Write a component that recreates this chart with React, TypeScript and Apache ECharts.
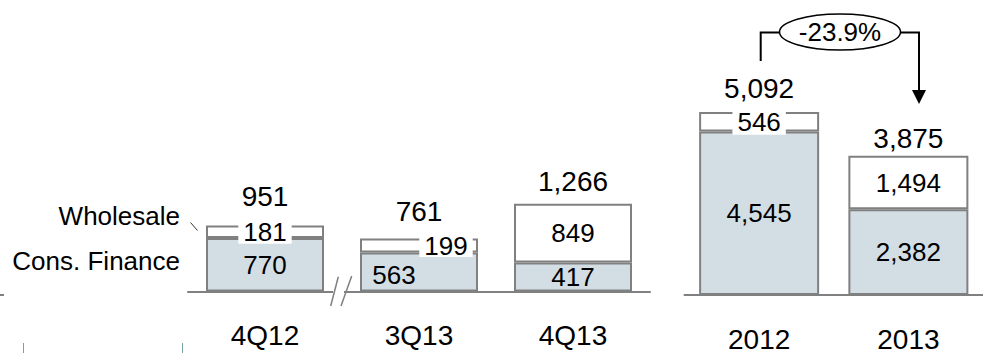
import React, { useEffect, useRef } from "react";
import * as echarts from "echarts";

const quarterCats = ["4Q12", "3Q13", "4Q13"];
const quarterConsFinance = [770, 563, 417];
const quarterWholesale = [181, 199, 849];
const quarterTotals = [951, 761, 1266];

const yearCats = ["2012", "2013"];
const yearConsFinance = [4545, 2382];
const yearWholesale = [546, 1494];
const yearTotals = [5092, 3875];

const legendWholesale = "Wholesale";
const legendConsFinance = "Cons. Finance";
const changeLabel = "-23.9%";

const FONT = "Liberation Sans, Arial, sans-serif";
const FILL = "#d3dee4";
const BORDER = "#808080";

const fmt = (v: number) => v.toLocaleString("en-US");

export default function App() {
  const ref = useRef<HTMLDivElement>(null);
  useEffect(() => {
    if (!ref.current) return;
    const chart = echarts.init(ref.current, undefined, { renderer: "svg" });

    const innerLabel = {
      show: true,
      position: "inside" as const,
      fontSize: 26,
      fontFamily: FONT,
      color: "#000",
      formatter: (p: any) => fmt(p.value),
    };
    const totalLabel = {
      show: true,
      position: "top" as const,
      distance: 0,
      fontSize: 28,
      fontFamily: FONT,
      color: "#000",
      lineHeight: 28,
      formatter: (p: any) => fmt(p.value),
    };
    const quarterTotalOffsets = [-15, -13, -8];
    const yearTotalOffsets = [-9, -3];

    const option: any = {
      animation: false,
      grid: [
        { left: 188, width: 462, top: 152.7, bottom: 61.5 },
        { left: 684.5, width: 311.4, top: 79.3, bottom: 57.7 },
      ],
      xAxis: [
        {
          type: "category",
          gridIndex: 0,
          data: quarterCats,
          axisTick: { show: false },
          axisLine: { lineStyle: { color: BORDER, width: 2 } },
          axisLabel: { fontSize: 28, fontFamily: FONT, color: "#000", margin: 30 },
        },
        {
          type: "category",
          gridIndex: 1,
          data: yearCats,
          axisTick: { show: false },
          axisLine: { lineStyle: { color: BORDER, width: 2 } },
          axisLabel: { fontSize: 28, fontFamily: FONT, color: "#000", margin: 30 },
        },
      ],
      yAxis: [
        { type: "value", gridIndex: 0, min: 0, max: 2000, show: false, splitLine: { show: false } },
        { type: "value", gridIndex: 1, min: 0, max: 6000, show: false, splitLine: { show: false } },
      ],
      series: [
        {
          name: legendConsFinance,
          type: "bar",
          xAxisIndex: 0,
          yAxisIndex: 0,
          stack: "q",
          barWidth: 118,
          data: quarterConsFinance.map((v, i) =>
            i === 1 ? { value: v, label: { offset: [-25, 3] } } : v
          ),
          itemStyle: { color: FILL, borderColor: BORDER, borderWidth: 2 },
          label: innerLabel,
        },
        {
          name: legendWholesale,
          type: "bar",
          xAxisIndex: 0,
          yAxisIndex: 0,
          stack: "q",
          barWidth: 118,
          data: quarterWholesale.map((v, i) =>
            i === 0
              ? { value: v, label: { backgroundColor: "#fff", padding: [0, 5], lineHeight: 24 } }
              : i === 1
              ? { value: v, label: { backgroundColor: "#fff", padding: [0, 5], lineHeight: 23, offset: [27, 0] } }
              : v
          ),
          itemStyle: { color: "#fff", borderColor: BORDER, borderWidth: 2 },
          label: innerLabel,
          z: 3,
        },
        {
          name: "Total",
          type: "bar",
          xAxisIndex: 0,
          yAxisIndex: 0,
          barWidth: 118,
          barGap: "-100%",
          silent: true,
          data: quarterTotals.map((v, i) => ({ value: v, label: { offset: [0, quarterTotalOffsets[i]] } })),
          itemStyle: { color: "rgba(0,0,0,0)", borderWidth: 0 },
          label: totalLabel,
          z: 4,
        },
        {
          name: legendConsFinance,
          type: "bar",
          xAxisIndex: 1,
          yAxisIndex: 1,
          stack: "y",
          barWidth: 120,
          data: yearConsFinance,
          itemStyle: { color: FILL, borderColor: BORDER, borderWidth: 2 },
          label: innerLabel,
        },
        {
          name: legendWholesale,
          type: "bar",
          xAxisIndex: 1,
          yAxisIndex: 1,
          stack: "y",
          barWidth: 120,
          data: yearWholesale.map((v, i) =>
            i === 0
              ? { value: v, label: { backgroundColor: "#fff", padding: [0, 5], lineHeight: 26 } }
              : v
          ),
          itemStyle: { color: "#fff", borderColor: BORDER, borderWidth: 2 },
          label: innerLabel,
          z: 3,
        },
        {
          name: "Total",
          type: "bar",
          xAxisIndex: 1,
          yAxisIndex: 1,
          barWidth: 120,
          barGap: "-100%",
          silent: true,
          data: yearTotals.map((v, i) => ({ value: v, label: { offset: [0, yearTotalOffsets[i]] } })),
          itemStyle: { color: "rgba(0,0,0,0)", borderWidth: 0 },
          label: totalLabel,
          z: 4,
        },
      ],
      graphic: [
        {
          type: "text",
          x: 180,
          y: 216,
          style: {
            text: legendWholesale,
            fontSize: 26,
            fontFamily: FONT,
            fill: "#000",
            textAlign: "right",
            textVerticalAlign: "middle",
          },
        },
        {
          type: "text",
          x: 180,
          y: 260.5,
          style: {
            text: legendConsFinance,
            fontSize: 26,
            fontFamily: FONT,
            fill: "#000",
            textAlign: "right",
            textVerticalAlign: "middle",
          },
        },
        {
          type: "line",
          shape: { x1: 190.5, y1: 222.5, x2: 197.5, y2: 230.5 },
          style: { stroke: "#333", lineWidth: 1 },
        },
        // axis break
        {
          type: "rect",
          shape: { x: 333, y: 289, width: 11, height: 5 },
          style: { fill: "#fff" },
          z: 10,
        },
        {
          type: "line",
          shape: { x1: 330.7, y1: 306, x2: 338.3, y2: 276.7 },
          style: { stroke: BORDER, lineWidth: 1.5 },
          z: 11,
        },
        {
          type: "line",
          shape: { x1: 341, y1: 306, x2: 351.7, y2: 276 },
          style: { stroke: BORDER, lineWidth: 1.5 },
          z: 11,
        },
        // change annotation
        {
          type: "polyline",
          shape: { points: [[760.7, 61], [760.7, 32.5], [780, 32.5]] },
          style: { stroke: "#000", lineWidth: 2, fill: null },
        },
        {
          type: "polyline",
          shape: { points: [[900, 32.5], [919, 32.5], [919, 92]] },
          style: { stroke: "#000", lineWidth: 2, fill: null },
        },
        {
          type: "polygon",
          shape: { points: [[912, 90], [926, 90], [919, 104]] },
          style: { fill: "#000" },
        },
        {
          type: "ellipse",
          shape: { cx: 840, cy: 32, rx: 60.5, ry: 18 },
          style: { fill: "#fff", stroke: "#000", lineWidth: 1.5 },
          z: 5,
        },
        {
          type: "text",
          x: 840,
          y: 32,
          z: 6,
          style: {
            text: changeLabel,
            fontSize: 26,
            fontFamily: FONT,
            fill: "#000",
            textAlign: "center",
            textVerticalAlign: "middle",
          },
        },
        // small edge remnants
        {
          type: "line",
          shape: { x1: 0, y1: 295, x2: 4, y2: 295 },
          style: { stroke: BORDER, lineWidth: 2 },
        },
        {
          type: "line",
          shape: { x1: 23.5, y1: 343, x2: 23.5, y2: 353 },
          style: { stroke: "#7aa0a8", lineWidth: 1 },
        },
        {
          type: "line",
          shape: { x1: 182.5, y1: 343, x2: 182.5, y2: 353 },
          style: { stroke: "#7aa0a8", lineWidth: 1 },
        },
      ],
    };
    chart.setOption(option);
    return () => chart.dispose();
  }, []);

  return (
    <div
      ref={ref}
      style={{ position: "fixed", left: 0, top: 0, width: 983, height: 353, background: "#fff" }}
    />
  );
}
